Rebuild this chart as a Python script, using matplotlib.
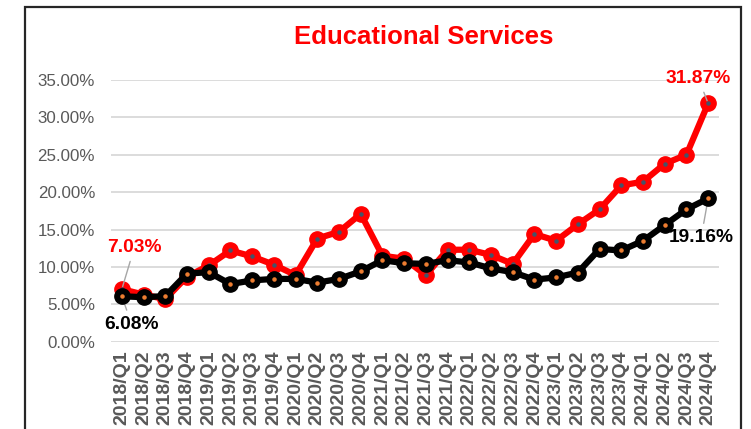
import matplotlib.pyplot as plt
from matplotlib.patches import Rectangle
from matplotlib.ticker import FuncFormatter

# Trimestres
quarters = [
    "2018/Q1", "2018/Q2", "2018/Q3", "2018/Q4",
    "2019/Q1", "2019/Q2", "2019/Q3", "2019/Q4",
    "2020/Q1", "2020/Q2", "2020/Q3", "2020/Q4",
    "2021/Q1", "2021/Q2", "2021/Q3", "2021/Q4",
    "2022/Q1", "2022/Q2", "2022/Q3", "2022/Q4",
    "2023/Q1", "2023/Q2", "2023/Q3", "2023/Q4",
    "2024/Q1", "2024/Q2", "2024/Q3", "2024/Q4",
]

# serie rouge (%)
red_values = [7.03, 6.3, 5.7, 8.7, 10.2, 12.2, 11.4, 10.3, 8.9, 13.8, 14.7, 17.1,
              11.5, 11.1, 8.9, 12.3, 12.3, 11.6, 10.4, 14.4, 13.5, 15.7, 17.7, 20.9,
              21.4, 23.8, 25.0, 31.87]

# serie noire (%)
black_values = [6.08, 5.95, 6.1, 9.1, 9.3, 7.7, 8.2, 8.4, 8.4, 7.9, 8.4, 9.4,
                10.9, 10.5, 10.4, 10.9, 10.6, 9.8, 9.3, 8.3, 8.6, 9.25, 12.4, 12.2,
                13.5, 15.6, 17.7, 19.16]

plt.rcParams['font.family'] = ['Liberation Sans', 'DejaVu Sans']

fig = plt.figure(figsize=(7.51, 4.29), dpi=100)
ax = fig.add_axes([0.1478, 0.2035, 0.8096, 0.61])

x = list(range(len(quarters)))

# lignes + marqueurs
ax.plot(x, red_values, color='#ff0000', linewidth=4.5, marker='o', markersize=11, zorder=3)
ax.scatter(x, red_values, s=5, color='#44546a', zorder=4)
ax.plot(x, black_values, color='black', linewidth=4.5, marker='o', markersize=11, zorder=5)
ax.scatter(x, black_values, s=5, color='#ed7d31', zorder=6)

ax.set_xlim(-0.5, len(quarters) - 0.5)
ax.set_ylim(0, 35)
ax.set_yticks([0, 5, 10, 15, 20, 25, 30, 35])
ax.yaxis.set_major_formatter(FuncFormatter(lambda v, p: f"{v:.2f}%"))
ax.set_xticks(x)
ax.set_xticklabels(quarters, rotation=90, fontweight='bold', fontsize=14)

ax.tick_params(axis='y', length=0, pad=11.5, labelsize=12.2, labelcolor='#595959')
ax.tick_params(axis='x', length=0, pad=6.5, labelcolor='#595959')
ax.grid(axis='y', color='#d9d9d9', linewidth=1.3)
ax.set_axisbelow(True)
for s in ax.spines.values():
    s.set_visible(False)

# etiquettes de donnees
line_kw = dict(arrowstyle='-', color='#a6a6a6', linewidth=1, shrinkA=2, shrinkB=2)
ax.annotate(f"{red_values[0]:.2f}%", (x[0], red_values[0]), xytext=(9, 30), textcoords='offset points',
            ha='center', va='center', color='#ff0000', fontsize=13.8, fontweight='bold', arrowprops=line_kw)
ax.annotate(f"{black_values[0]:.2f}%", (x[0], black_values[0]), xytext=(7, -20), textcoords='offset points',
            ha='center', va='center', color='black', fontsize=13.8, fontweight='bold', arrowprops=line_kw)
ax.annotate(f"{red_values[-1]:.2f}%", (x[-1], red_values[-1]), xytext=(-7, 18), textcoords='offset points',
            ha='center', va='center', color='#ff0000', fontsize=13.8, fontweight='bold', arrowprops=line_kw)
ax.annotate(f"{black_values[-1]:.2f}%", (x[-1], black_values[-1]), xytext=(-5, -28), textcoords='offset points',
            ha='center', va='center', color='black', fontsize=13.8, fontweight='bold', arrowprops=line_kw)

fig.text(423.5 / 751, 1 - 37 / 429, "Educational Services", ha='center', va='center',
         color='#ff0000', fontsize=18.5, fontweight='bold')

# cadre du graphique
fig.patches.append(Rectangle((25 / 751, -0.1), (741 - 25) / 751, 1.1 - 7 / 429, transform=fig.transFigure,
                             fill=False, edgecolor='#262626', linewidth=1.6))

fig.savefig('out.png', dpi=100)
